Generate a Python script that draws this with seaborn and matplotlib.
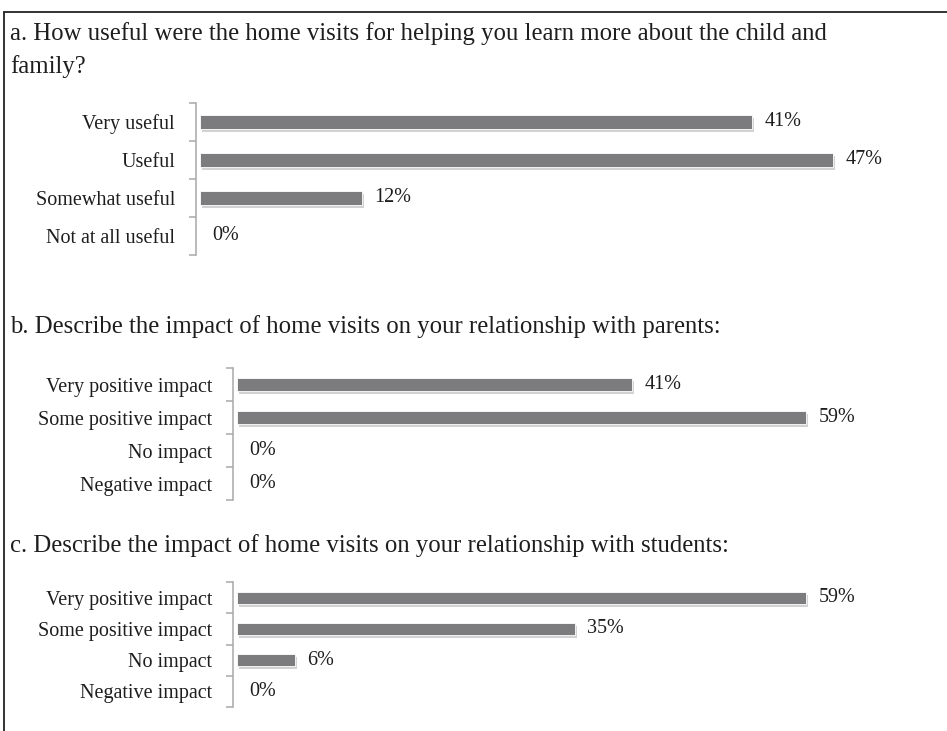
import matplotlib
matplotlib.use("Agg")
import matplotlib.pyplot as plt
import matplotlib.patheffects as pe
from matplotlib.lines import Line2D
import seaborn as sns
import pandas as pd

sns.set_style("white")
plt.rcParams['font.family'] = ['Liberation Serif', 'DejaVu Serif']

# ---- data ----
title_a = "a. How useful were the home visits for helping you learn more about the child and\nfamily?"
cats_a = ["Very useful", "Useful", "Somewhat useful", "Not at all useful"]
vals_a = [41, 47, 12, 0]

title_b = "b. Describe the impact of home visits on your relationship with parents:"
cats_b = ["Very positive impact", "Some positive impact", "No impact", "Negative impact"]
vals_b = [41, 59, 0, 0]

title_c = "c. Describe the impact of home visits on your relationship with students:"
cats_c = ["Very positive impact", "Some positive impact", "No impact", "Negative impact"]
vals_c = [59, 35, 6, 0]

W, H = 947, 731
fig = plt.figure(figsize=(W / 100, H / 100), dpi=100)
fig.patch.set_facecolor("white")

BAR = "#7c7c7f"
SPINE = "#a8a8a8"
TXT = "#1e1e1e"
LABEL_FS = 14.5
TITLE_FS = 17.8


def axes_px(left, top, right, bottom):
    return fig.add_axes([left / W, 1 - bottom / H, (right - left) / W, (bottom - top) / H])


def panel(ax, cats, vals, xmax, bar_w):
    df = pd.DataFrame({"cat": cats, "val": vals})
    sns.barplot(data=df, x="val", y="cat", orient="h", ax=ax, color=BAR,
                width=bar_w, saturation=1, edgecolor="white", linewidth=0.6)
    for p in ax.patches:
        p.set_path_effects([pe.SimplePatchShadow(offset=(1.5, -2.2), shadow_rgbFace="#b5b5b5", alpha=0.6),
                            pe.Normal()])
    ax.set_xlim(0, xmax)
    ax.set_ylim(3.5, -0.5)
    ax.set_xlabel("")
    ax.set_ylabel("")
    ax.set_xticks([])
    for s in ["top", "right", "bottom"]:
        ax.spines[s].set_visible(False)
    ax.spines["left"].set_color(SPINE)
    ax.spines["left"].set_linewidth(1.1)
    ax.spines["left"].set_position(("outward", 3))
    ax.set_yticks(range(len(cats)))
    ax.set_yticklabels(cats, fontsize=LABEL_FS, color=TXT)
    ax.set_yticks([-0.5, 0.5, 1.5, 2.5, 3.5], minor=True)
    ax.tick_params(axis="y", which="major", left=True, length=0, pad=15)
    ax.tick_params(axis="y", which="minor", left=True, length=5, width=1.1, color=SPINE, direction="out")
    ax.bar_label(ax.containers[0], labels=[f"{v}%" for v in vals], padding=9,
                 fontsize=LABEL_FS, color=TXT)
    ax.patch.set_alpha(0)


ax_a = axes_px(200, 103, 900, 255)
panel(ax_a, cats_a, vals_a, 52, 0.35)
ax_b = axes_px(237, 368, 912, 500)
panel(ax_b, cats_b, vals_b, 70, 0.37)
ax_c = axes_px(237, 582, 912, 707)
panel(ax_c, cats_c, vals_c, 70, 0.38)

fig.text(10 / W, 1 - 22 / H, title_a, fontsize=TITLE_FS, color=TXT, va="top", ha="left", linespacing=1.55)
fig.text(10 / W, 1 - 327 / H, title_b, fontsize=TITLE_FS, color=TXT, va="center", ha="left")
fig.text(10 / W, 1 - 546 / H, title_c, fontsize=TITLE_FS, color=TXT, va="center", ha="left")

# frame border
fig.add_artist(Line2D([4 / W, 1.0], [1 - 12 / H, 1 - 12 / H], color="#222222", lw=1.3, transform=fig.transFigure))
fig.add_artist(Line2D([4 / W, 4 / W], [1 - 12 / H, 0.0], color="#222222", lw=1.3, transform=fig.transFigure))

fig.savefig("out.png", dpi=100, facecolor="white")
